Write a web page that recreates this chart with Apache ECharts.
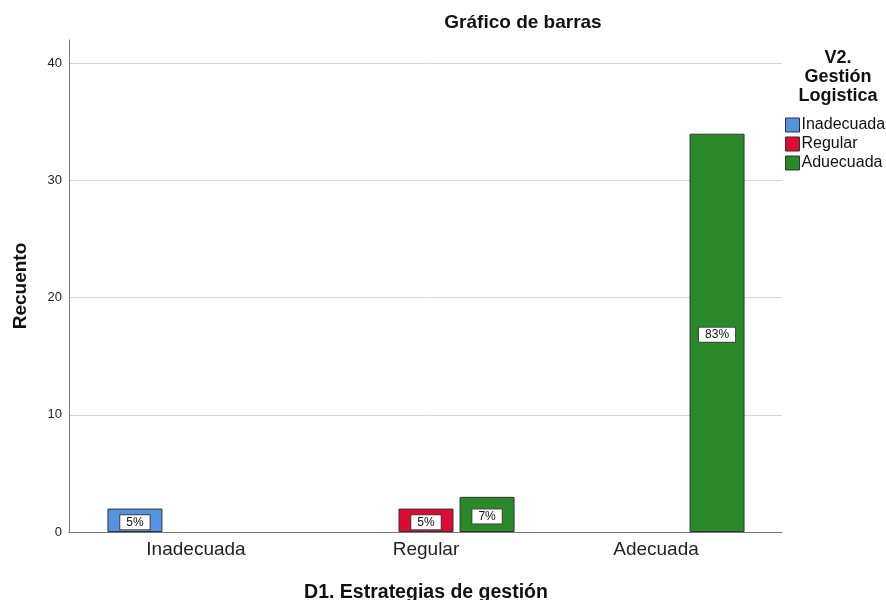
<!DOCTYPE html>
<html>
<head>
<meta charset="utf-8">
<script src="https://cdn.jsdelivr.net/npm/echarts@6/dist/echarts.min.js"></script>
<style>
  html, body { margin: 0; padding: 0; background: #fff; }
  #chart { width: 886px; height: 600px; }
</style>
</head>
<body>
<div id="chart"></div>
<script>
// datos del gráfico
var categories = ['Inadecuada', 'Regular', 'Adecuada'];
var seriesNames = ['Inadecuada', 'Regular', 'Aduecuada'];
var inadecuada = [2, '-', '-'];
var regular = ['-', 2, '-'];
var aduecuada = ['-', 3, 34];
var pctInadecuada = ['5%', '', ''];
var pctRegular = ['', '5%', ''];
var pctAduecuada = ['', '7%', '83%'];
var yTicks = [0, 10, 20, 30, 40];

var colors = ['#5592e0', '#dd0a33', '#2a8a2a'];
var font = "'Liberation Sans', Arial, sans-serif";

var chart = echarts.init(document.getElementById('chart'));

function makeSeries(name, data, labels, idx) {
  return {
    name: name,
    type: 'bar',
    xAxisIndex: 1,
    yAxisIndex: 1,
    barWidth: 55,
    barGap: '11%',
    data: data,
    itemStyle: { color: colors[idx], borderColor: '#333', borderWidth: 1 },
    label: {
      show: true,
      position: 'inside',
      offset: [0, 2],
      formatter: function (p) { return labels[p.dataIndex]; },
      backgroundColor: '#fff',
      borderColor: '#444',
      borderWidth: 1,
      padding: [1, 6],
      lineHeight: 12,
      color: '#111',
      fontSize: 12,
      fontFamily: font
    },
    animation: false
  };
}

var option = {
  animation: false,
  title: [
    {
      text: 'Gráfico de barras',
      left: 518,
      top: 8,
      textAlign: 'center',
      textStyle: { fontSize: 19, fontWeight: 'bold', color: '#111', fontFamily: font }
    },
    {
      text: 'V2.\nGestión\nLogistica',
      left: 838,
      top: 49,
      textAlign: 'center',
      padding: 0,
      textStyle: { fontSize: 18, fontWeight: 'bold', color: '#111', lineHeight: 19, fontFamily: font }
    }
  ],
  legend: {
    orient: 'vertical',
    left: 785,
    top: 117,
    padding: 0,
    itemWidth: 14,
    itemHeight: 14,
    itemGap: 3,
    icon: 'rect',
    data: seriesNames,
    itemStyle: { borderColor: '#333', borderWidth: 1 },
    textStyle: { fontSize: 16, color: '#111', fontFamily: font, padding: [0, 0, 0, -3] }
  },
  grid: [
    { left: 69, width: 713, top: 40, bottom: 68, outerBoundsMode: 'none' },
    { left: 81, width: 690, top: 40, bottom: 68, outerBoundsMode: 'none' }
  ],
  xAxis: [
    {
      gridIndex: 0,
      type: 'value',
      min: 0,
      max: 1,
      axisLine: { show: true, lineStyle: { color: '#777', width: 1 } },
      axisTick: { show: false },
      axisLabel: { show: false },
      splitLine: { show: false }
    },
    {
      gridIndex: 1,
      type: 'category',
      data: categories,
      axisLine: { show: false },
      axisTick: { show: false },
      axisLabel: { fontSize: 19, color: '#222', margin: 8, fontFamily: font },
      name: 'D1. Estrategias de gestión',
      nameLocation: 'middle',
      nameGap: 51,
      nameTextStyle: { fontSize: 19.5, fontWeight: 'bold', color: '#111', fontFamily: font }
    }
  ],
  yAxis: [
    {
      gridIndex: 0,
      type: 'value',
      min: 0,
      max: 42,
      interval: 10,
      axisLine: { show: true, lineStyle: { color: '#777', width: 1 } },
      axisTick: { show: false },
      axisLabel: {
        fontSize: 13, color: '#222', margin: 7, fontFamily: font, showMaxLabel: false,
        formatter: function (v) { return yTicks.indexOf(v) >= 0 ? String(v) : ''; }
      },
      splitLine: { show: true, showMaxLine: false, showMinLine: false, lineStyle: { color: '#d4d4d4', width: 1 } },
      name: 'Recuento',
      nameLocation: 'middle',
      nameGap: 39,
      nameRotate: 90,
      nameTextStyle: { fontSize: 19, fontWeight: 'bold', color: '#111', fontFamily: font }
    },
    {
      gridIndex: 1,
      type: 'value',
      min: 0,
      max: 42,
      show: false,
      splitLine: { show: false }
    }
  ],
  series: [
    makeSeries(seriesNames[0], inadecuada, pctInadecuada, 0),
    makeSeries(seriesNames[1], regular, pctRegular, 1),
    makeSeries(seriesNames[2], aduecuada, pctAduecuada, 2)
  ]
};

chart.setOption(option);
</script>
</body>
</html>
